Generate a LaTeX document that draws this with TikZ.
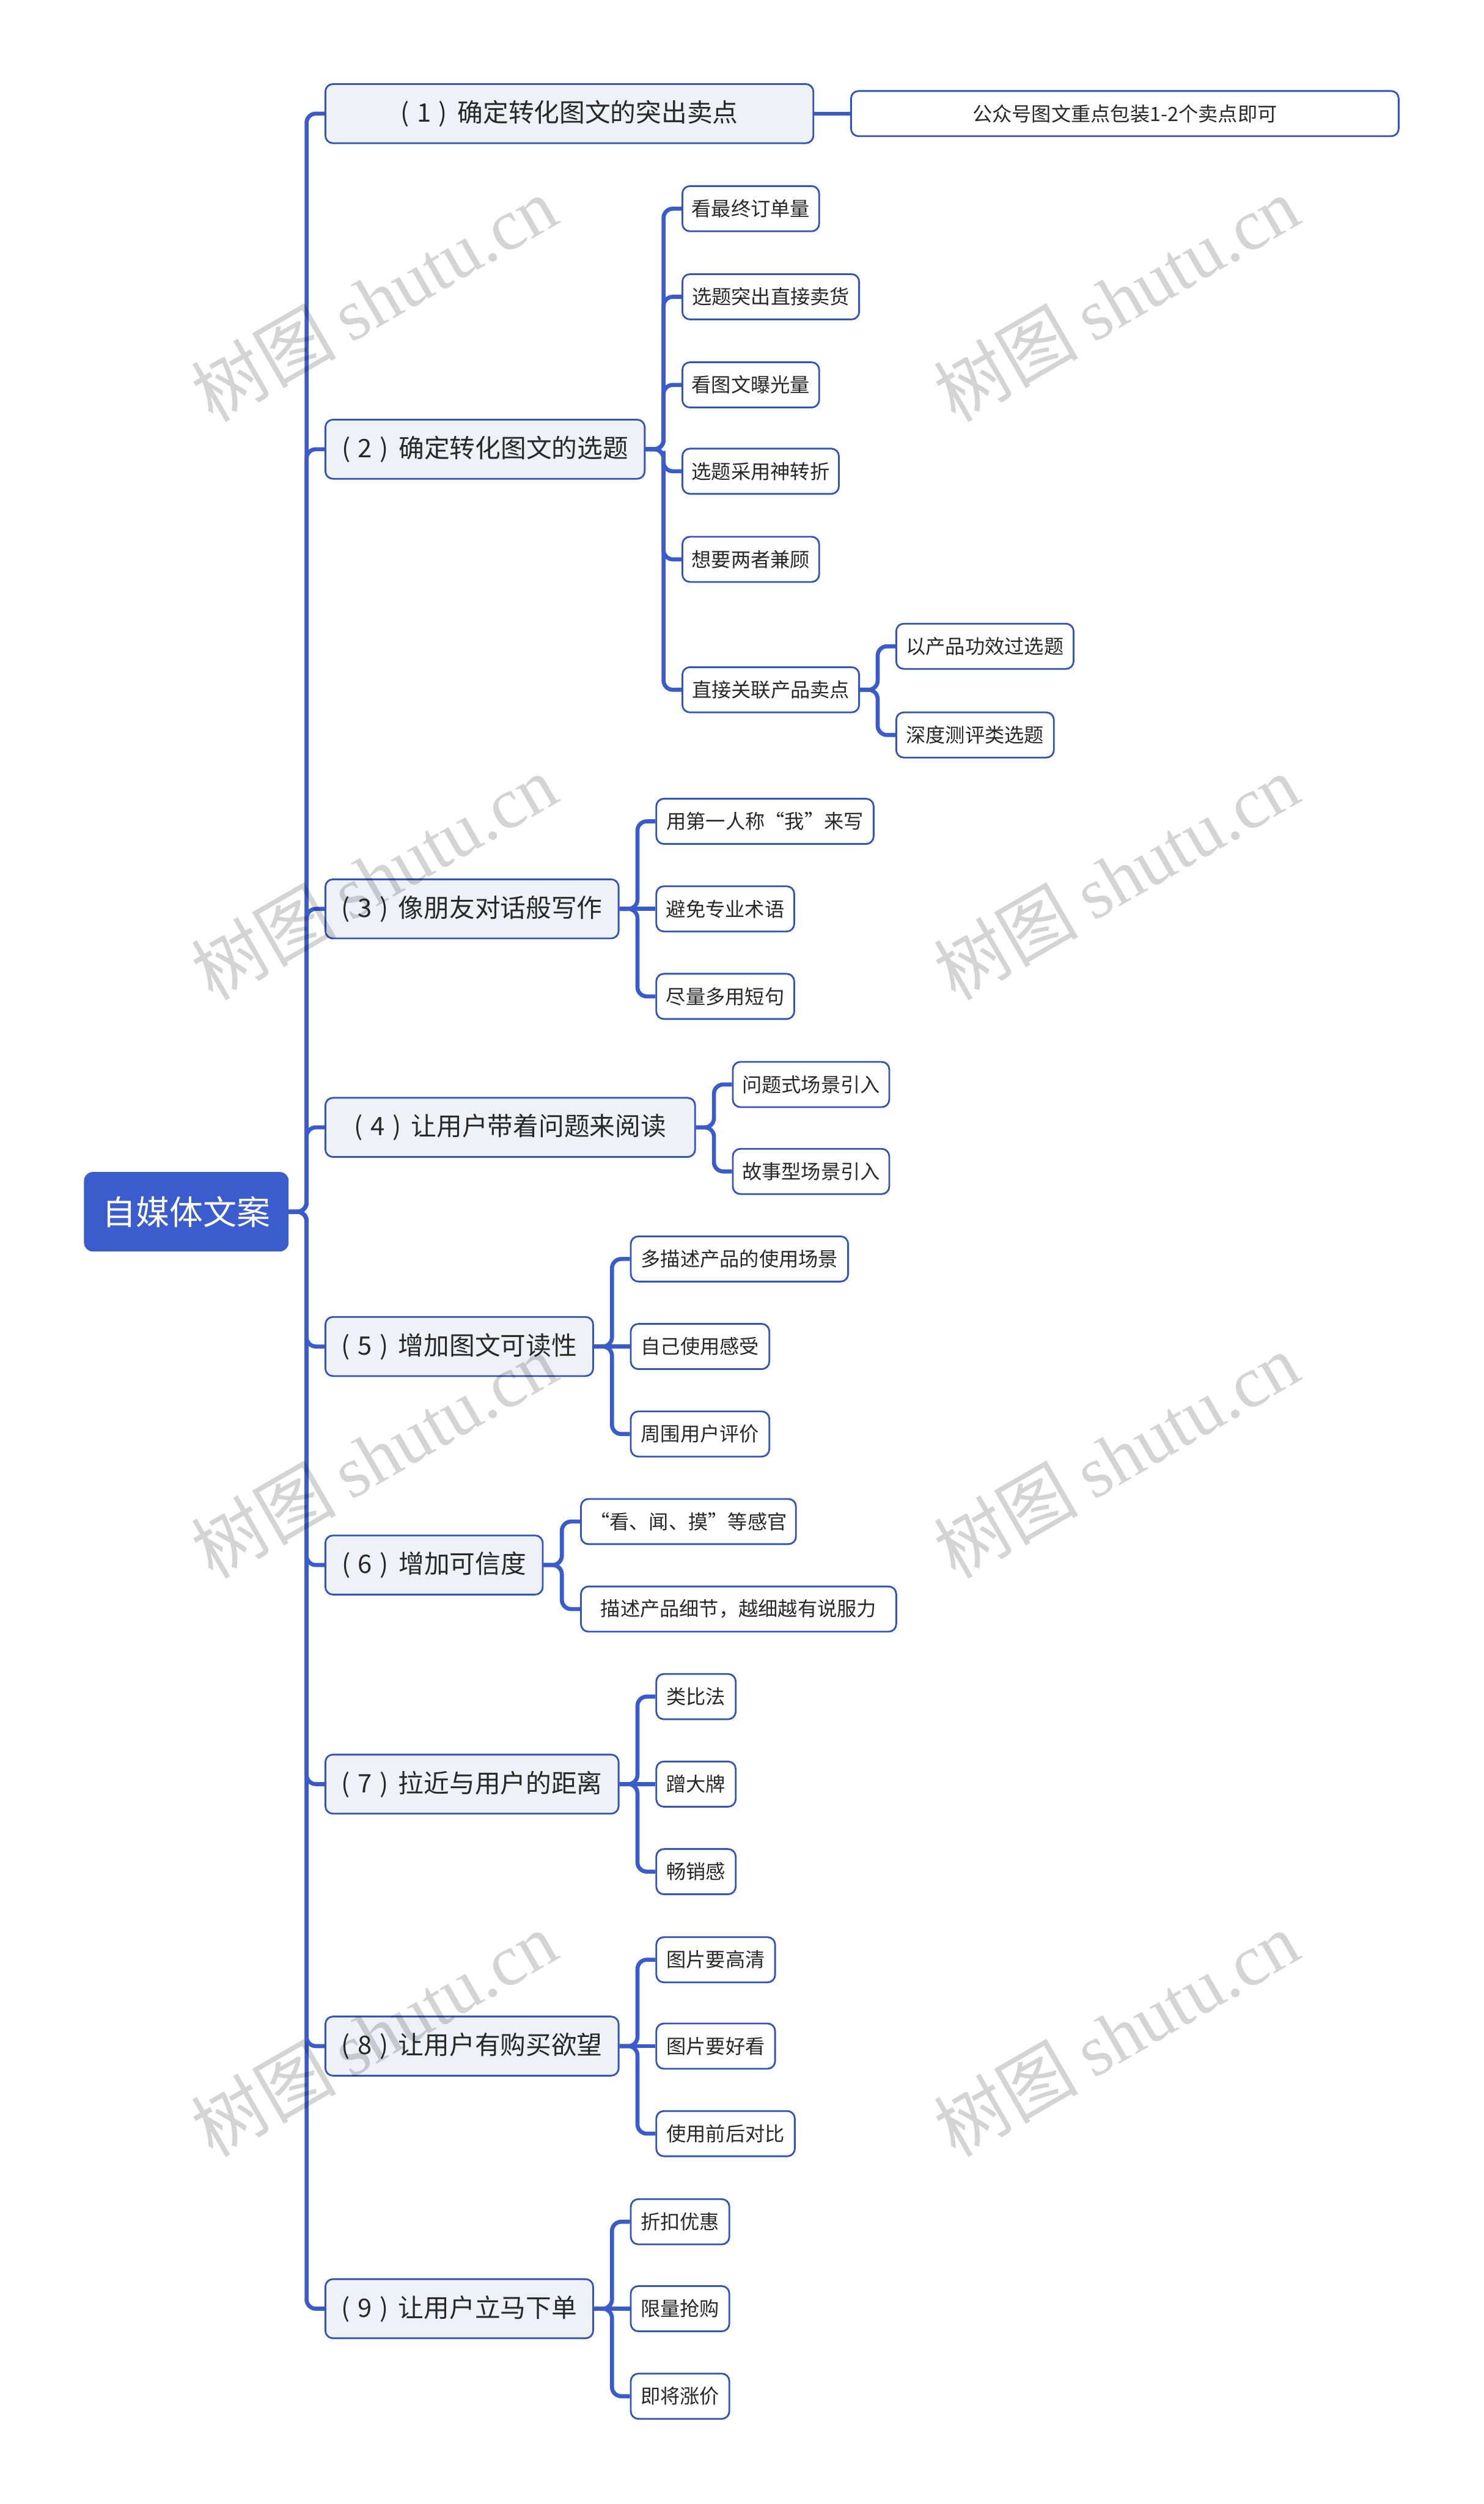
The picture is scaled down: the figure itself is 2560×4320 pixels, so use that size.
\documentclass[tikz,border=0pt]{standalone}
\usepackage{fontspec}
\setmainfont{Noto Sans CJK SC}
\newfontfamily\wmserif{Liberation Serif}
\usetikzlibrary{calc,backgrounds}
\definecolor{lineblue}{RGB}{58,91,204}
\definecolor{rootblue}{RGB}{59,92,204}
\definecolor{boxline}{RGB}{52,84,184}
\definecolor{lvfill}{RGB}{238,241,246}
\definecolor{txtc}{RGB}{40,40,40}
\newcommand\mmlink[2]{\draw[conn] (#1.east) -| ($(#1.east)!0.5!(#2.west)$) |- (#2.west);}
\newcommand\mmstraight[2]{\draw[conn] (#1.east) -- (#2.west);}
\newcommand\pnum[1]{(\hspace{0.3em}#1\hspace{0.3em})\hspace{0.4em}}
\begin{document}
\begin{tikzpicture}[x=1pt,y=-1pt,
  rootbox/.style={fill=rootblue, draw=rootblue, line width=2pt, rounded corners=14pt, text=white,
    font=\fontsize{58pt}{70pt}\selectfont, minimum height=135pt, inner sep=0pt},
  lvlone/.style={fill=lvfill, draw=boxline, line width=3pt, rounded corners=13pt, text=txtc,
    font=\fontsize{44pt}{54pt}\selectfont, minimum height=102pt, inner sep=0pt, anchor=west},
  lvltwo/.style={fill=white, draw=boxline, line width=3pt, rounded corners=13pt, text=txtc,
    font=\fontsize{34pt}{42pt}\selectfont, minimum height=78pt, inner sep=0pt, anchor=west},
  conn/.style={draw=lineblue, line width=7pt, rounded corners=16pt},
  wm/.style={text=black, text opacity=0.17, rotate=30, inner sep=0pt}
]
\useasboundingbox (0,0) rectangle (2560,4320);
\begin{scope}[on background layer]
\fill[white] (0,0) rectangle (2560,4320);
\end{scope}

% root
\node[rootbox, minimum width=351pt] (root) at (321.5,2090.5) {自媒体文案};

% level one
\node[lvlone, minimum width=842pt] (n1) at (560,196) {\pnum{1}确定转化图文的突出卖点};
\node[lvlone, minimum width=551pt] (n2) at (560,775) {\pnum{2}确定转化图文的选题};
\node[lvlone, minimum width=506pt] (n3) at (560,1568) {\pnum{3}像朋友对话般写作};
\node[lvlone, minimum width=638pt] (n4) at (560,1945) {\pnum{4}让用户带着问题来阅读};
\node[lvlone, minimum width=462pt] (n5) at (560,2323) {\pnum{5}增加图文可读性};
\node[lvlone, minimum width=375pt] (n6) at (560,2700) {\pnum{6}增加可信度};
\node[lvlone, minimum width=506pt] (n7) at (560,3078) {\pnum{7}拉近与用户的距离};
\node[lvlone, minimum width=506pt] (n8) at (560,3530) {\pnum{8}让用户有购买欲望};
\node[lvlone, minimum width=462pt] (n9) at (560,3983) {\pnum{9}让用户立马下单};

% level two
\node[lvltwo, minimum width=945pt] (c11) at (1467,196) {公众号图文重点包装1-2个卖点即可};

\node[lvltwo, minimum width=236pt] (c21) at (1176,360) {看最终订单量};
\node[lvltwo, minimum width=305pt] (c22) at (1176,512) {选题突出直接卖货};
\node[lvltwo, minimum width=236pt] (c23) at (1176,664) {看图文曝光量};
\node[lvltwo, minimum width=270pt] (c24) at (1176,813) {选题采用神转折};
\node[lvltwo, minimum width=236pt] (c25) at (1176,965) {想要两者兼顾};
\node[lvltwo, minimum width=305pt] (c26) at (1176,1190) {直接关联产品卖点};
\node[lvltwo, minimum width=306pt] (c261) at (1545,1115) {以产品功效过选题};
\node[lvltwo, minimum width=272pt] (c262) at (1545,1268) {深度测评类选题};

\node[lvltwo, minimum width=375pt] (c31) at (1131,1417) {用第一人称“我”来写};
\node[lvltwo, minimum width=238pt] (c32) at (1131,1568) {避免专业术语};
\node[lvltwo, minimum width=238pt] (c33) at (1131,1719) {尽量多用短句};

\node[lvltwo, minimum width=270pt] (c41) at (1263,1871) {问题式场景引入};
\node[lvltwo, minimum width=270pt] (c42) at (1263,2021) {故事型场景引入};

\node[lvltwo, minimum width=375pt] (c51) at (1087,2172) {多描述产品的使用场景};
\node[lvltwo, minimum width=239pt] (c52) at (1087,2323) {自己使用感受};
\node[lvltwo, minimum width=239pt] (c53) at (1087,2474) {周围用户评价};

\node[lvltwo, minimum width=371pt] (c61) at (1001,2625) {“看、闻、摸”等感官};
\node[lvltwo, minimum width=544pt] (c62) at (1001,2776) {描述产品细节，越细越有说服力};

\node[lvltwo, minimum width=137pt] (c71) at (1131,2927) {类比法};
\node[lvltwo, minimum width=137pt] (c72) at (1131,3078) {蹭大牌};
\node[lvltwo, minimum width=137pt] (c73) at (1131,3229) {畅销感};

\node[lvltwo, minimum width=205pt] (c81) at (1131,3381) {图片要高清};
\node[lvltwo, minimum width=205pt] (c82) at (1131,3530) {图片要好看};
\node[lvltwo, minimum width=239pt] (c83) at (1131,3681) {使用前后对比};

\node[lvltwo, minimum width=170pt] (c91) at (1087,3833) {折扣优惠};
\node[lvltwo, minimum width=170pt] (c92) at (1087,3983) {限量抢购};
\node[lvltwo, minimum width=170pt] (c93) at (1087,4134) {即将涨价};

% connectors
\begin{scope}[on background layer]
\foreach \n in {n1,n2,n3,n4,n5,n6,n7,n8,n9} {\mmlink{root}{\n}}
\mmstraight{n1}{c11}
\foreach \c in {c21,c22,c23,c24,c25,c26} {\mmlink{n2}{\c}}
\mmlink{c26}{c261}
\mmlink{c26}{c262}
\mmlink{n3}{c31}\mmstraight{n3}{c32}\mmlink{n3}{c33}
\mmlink{n4}{c41}\mmlink{n4}{c42}
\mmlink{n5}{c51}\mmstraight{n5}{c52}\mmlink{n5}{c53}
\mmlink{n6}{c61}\mmlink{n6}{c62}
\mmlink{n7}{c71}\mmstraight{n7}{c72}\mmlink{n7}{c73}
\mmlink{n8}{c81}\mmstraight{n8}{c82}\mmlink{n8}{c83}
\mmlink{n9}{c91}\mmstraight{n9}{c92}\mmlink{n9}{c93}
\end{scope}

% watermarks
\foreach \wy [count=\i] in {515,1513,2511,3509} {
  \node[wm] (wl\i) at (645,\wy) {\fontsize{125pt}{125pt}\selectfont 树图\hspace{0.2em}{\wmserif shutu.cn}};
  \node[wm] (wr\i) at (1926,\wy) {\fontsize{125pt}{125pt}\selectfont 树图\hspace{0.2em}{\wmserif shutu.cn}};
}
\end{tikzpicture}
\end{document}
